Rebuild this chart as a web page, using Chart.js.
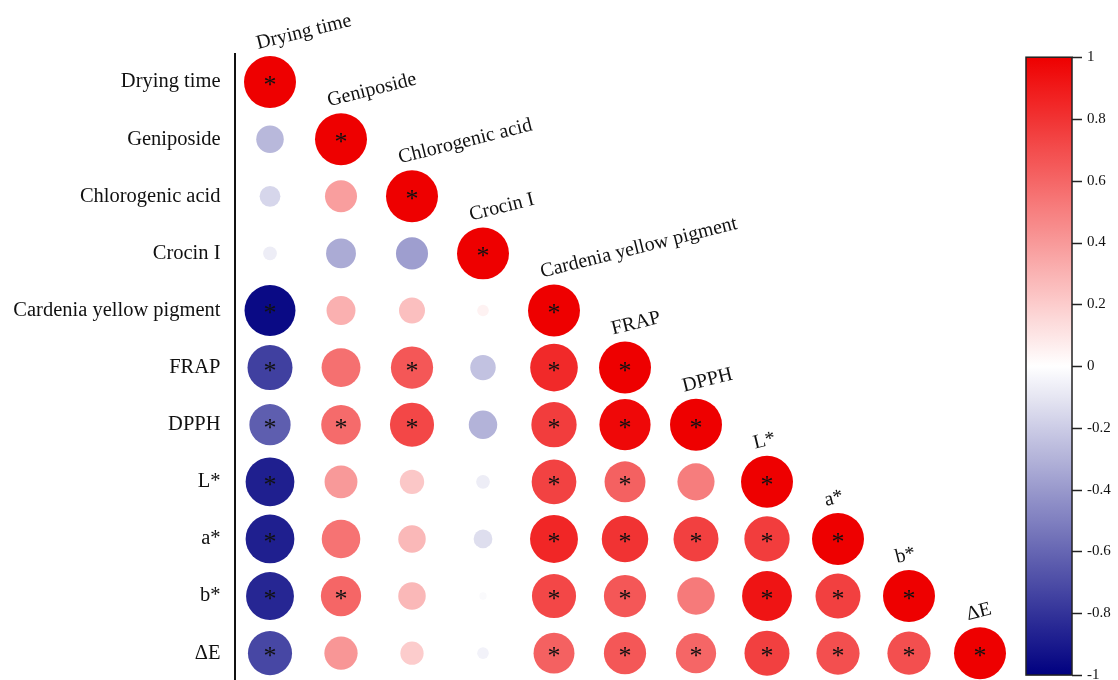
<!DOCTYPE html>
<html lang="en">
<head>
<meta charset="utf-8">
<title>Correlation matrix</title>
<script src="https://cdn.jsdelivr.net/npm/chart.js@4.4.1/dist/chart.umd.min.js"></script>
<style>
    html, body { margin: 0; padding: 0; background: #ffffff; }
    canvas { display: block; }
</style>
</head>
<body>
<canvas id="corrChart" width="1118" height="680"></canvas>
<script>
// Названия переменных (строки и столбцы матрицы)
const variables = ['Drying time', 'Geniposide', 'Chlorogenic acid', 'Crocin I',
    'Cardenia yellow pigment', 'FRAP', 'DPPH', 'L*', 'a*', 'b*', 'ΔE'];

// Коэффициенты корреляции, нижний треугольник по строкам
const rowDryingTime = [1];
const rowGeniposide = [-0.28, 1];
const rowChlorogenic = [-0.16, 0.38, 1];
const rowCrocin = [-0.07, -0.33, -0.38, 1];
const rowCardenia = [-0.96, 0.31, 0.25, 0.05, 1];
const rowFrap = [-0.75, 0.56, 0.66, -0.24, 0.84, 1];
const rowDpph = [-0.63, 0.58, 0.72, -0.30, 0.76, 0.97, 1];
const rowL = [-0.88, 0.40, 0.22, -0.07, 0.74, 0.62, 0.51, 1];
const rowA = [-0.88, 0.55, 0.28, -0.13, 0.85, 0.80, 0.75, 0.76, 1];
const rowB = [-0.85, 0.60, 0.28, -0.02, 0.72, 0.66, 0.52, 0.92, 0.75, 1];
const rowDeltaE = [-0.72, 0.41, 0.20, -0.05, 0.62, 0.66, 0.60, 0.75, 0.69, 0.69, 1];

// Значимость (1 = звёздочка)
const sigDryingTime = [1];
const sigGeniposide = [0, 1];
const sigChlorogenic = [0, 0, 1];
const sigCrocin = [0, 0, 0, 1];
const sigCardenia = [1, 0, 0, 0, 1];
const sigFrap = [1, 0, 1, 0, 1, 1];
const sigDpph = [1, 1, 1, 0, 1, 1, 1];
const sigL = [1, 0, 0, 0, 1, 1, 0, 1];
const sigA = [1, 0, 0, 0, 1, 1, 1, 1, 1];
const sigB = [1, 1, 0, 0, 1, 1, 0, 1, 1, 1];
const sigDeltaE = [1, 0, 0, 0, 1, 1, 1, 1, 1, 1, 1];

// Деления цветовой шкалы
const colorbarTicks = [1, 0.8, 0.6, 0.4, 0.2, 0, -0.2, -0.4, -0.6, -0.8, -1];

const corrRows = [rowDryingTime, rowGeniposide, rowChlorogenic, rowCrocin, rowCardenia,
    rowFrap, rowDpph, rowL, rowA, rowB, rowDeltaE];
const sigRows = [sigDryingTime, sigGeniposide, sigChlorogenic, sigCrocin, sigCardenia,
    sigFrap, sigDpph, sigL, sigA, sigB, sigDeltaE];

const FONT = '"Liberation Serif", "Times New Roman", serif';

/**
 * Цвет по коэффициенту: тёмно-синий -> белый -> красный
 */
function corrColor(v) {
    const neg = [0, 0, 128];
    const pos = [238, 0, 0];
    const t = Math.min(1, Math.abs(v));
    const end = v < 0 ? neg : pos;
    const c = end.map(ch => Math.round(255 + (ch - 255) * t));
    return `rgb(${c[0]}, ${c[1]}, ${c[2]})`;
}

// Точки матрицы
const points = [];
corrRows.forEach((row, i) => {
    row.forEach((v, j) => {
        points.push({ x: j, y: i, v: v, s: sigRows[i][j] });
    });
});

// Радиус круга: площадь пропорциональна |r|
function circleRadius(ctx) {
    const ys = ctx.chart.scales.y;
    const cell = Math.abs(ys.getPixelForValue(1) - ys.getPixelForValue(0));
    return 0.455 * cell * Math.sqrt(Math.abs(ctx.raw.v));
}

// Фиксированная ширина оси без отступов сверху/снизу
function fixAxis(width) {
    return scale => {
        scale.width = width;
        scale.paddingTop = 0;
        scale.paddingBottom = 0;
    };
}

// Подписи над диагональю, звёздочки и цветовая шкала
const corrDecor = {
    id: 'corrDecor',
    afterDatasetsDraw(chart) {
        const ctx = chart.ctx;
        const xs = chart.scales.x;
        const ys = chart.scales.y;
        const cb = chart.scales.cb;
        const meta = chart.getDatasetMeta(0);

        // звёздочки значимости
        ctx.save();
        ctx.fillStyle = '#111';
        ctx.font = `26px ${FONT}`;
        ctx.textAlign = 'center';
        ctx.textBaseline = 'alphabetic';
        meta.data.forEach((el, k) => {
            if (points[k].s) {
                ctx.fillText('*', el.x, el.y + 11);
            }
        });
        ctx.restore();

        // наклонные подписи у диагонали
        ctx.save();
        ctx.fillStyle = '#111';
        ctx.font = `20px ${FONT}`;
        ctx.textAlign = 'left';
        ctx.textBaseline = 'alphabetic';
        variables.forEach((name, i) => {
            const px = xs.getPixelForValue(i) - 12;
            const py = ys.getPixelForValue(i) - 33;
            ctx.save();
            ctx.translate(px, py);
            ctx.rotate(-14 * Math.PI / 180);
            ctx.fillText(name, 0, 0);
            ctx.restore();
        });
        ctx.restore();

        // цветовая шкала
        const left = cb.left + 10.5;
        const right = cb.left + 56.5;
        const top = cb.getPixelForValue(1);
        const bottom = cb.getPixelForValue(-1);
        const grad = ctx.createLinearGradient(0, bottom, 0, top);
        for (let k = 0; k <= 40; k++) {
            grad.addColorStop(k / 40, corrColor(-1 + k / 20));
        }
        ctx.save();
        ctx.fillStyle = grad;
        ctx.fillRect(left, top, right - left, bottom - top);
        ctx.strokeStyle = '#222';
        ctx.lineWidth = 1.5;
        ctx.strokeRect(left, top, right - left, bottom - top);
        cb.ticks.forEach(t => {
            const py = Math.round(cb.getPixelForValue(t.value)) + 0.5;
            ctx.beginPath();
            ctx.moveTo(right, py);
            ctx.lineTo(right + 10, py);
            ctx.stroke();
        });
        ctx.restore();
    }
};

const chart = new Chart(document.getElementById('corrChart'), {
    type: 'scatter',
    data: {
        datasets: [{
            data: points,
            pointRadius: circleRadius,
            pointBackgroundColor: ctx => corrColor(ctx.raw.v),
            pointBorderWidth: 0,
            pointBorderColor: 'rgba(0,0,0,0)',
            clip: false
        }]
    },
    options: {
        responsive: false,
        animation: false,
        events: [],
        layout: {
            autoPadding: false,
            padding: { top: 53.5, left: 0, right: 0, bottom: 0 }
        },
        plugins: {
            legend: { display: false },
            tooltip: { enabled: false }
        },
        scales: {
            x: {
                type: 'linear',
                display: false,
                min: -0.5,
                max: 10.5
            },
            y: {
                type: 'linear',
                reverse: true,
                min: -0.5,
                max: 10.47,
                afterFit: fixAxis(234.5),
                border: { display: true, color: '#111', width: 2 },
                grid: { display: false, drawTicks: false },
                ticks: {
                    stepSize: 1,
                    includeBounds: false,
                    padding: 14,
                    color: '#111',
                    font: { family: FONT, size: 20.5 },
                    callback: v => (Number.isInteger(v) ? variables[v] : '')
                }
            },
            cb: {
                type: 'linear',
                axis: 'y',
                position: 'right',
                min: -1.016,
                max: 1.012,
                afterFit: fixAxis(102.5),
                afterBuildTicks: scale => {
                    scale.ticks = colorbarTicks.map(v => ({ value: v }));
                },
                border: { display: false },
                grid: { display: false, drawTicks: false },
                ticks: {
                    padding: 71.5,
                    color: '#111',
                    font: { family: FONT, size: 15 },
                    callback: v => String(Math.round(v * 10) / 10)
                }
            }
        }
    },
    plugins: [corrDecor]
});
</script>
</body>
</html>
